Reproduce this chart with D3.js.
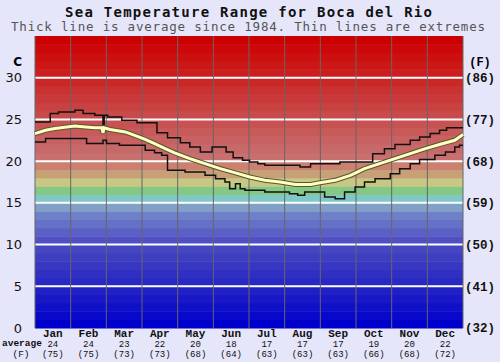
<!DOCTYPE html>
<html>
<head>
<meta charset="utf-8">
<script src="https://cdn.jsdelivr.net/npm/d3@7"></script>
<style>
  html, body { margin: 0; padding: 0; background: #e6e6fa; }
  svg { display: block; }
</style>
</head>
<body>
<svg id="chart" width="500" height="362"></svg>
<script>
// month labels and monthly averages
const months = ["Jan", "Feb", "Mar", "Apr", "May", "Jun", "Jul", "Aug", "Sep", "Oct", "Nov", "Dec"];
const monthAvgC = [24, 24, 23, 22, 20, 18, 17, 17, 17, 19, 20, 22];
const monthAvgF = [75, 75, 73, 73, 68, 64, 63, 63, 63, 66, 68, 72];
const ticksC = [0, 5, 10, 15, 20, 25, 30];
const ticksF = [32, 41, 50, 59, 68, 77, 86];

// average line (day of year, deg C)
const avgDays  = [0, 9, 17, 34, 43, 51, 57, 58, 59, 64, 77, 85, 94, 102, 111, 119, 132, 145, 158, 171, 183, 196, 209, 222, 235, 243, 256, 269, 281, 294, 307, 320, 333, 345, 358, 365];
const avgTemps = [23.3, 23.7, 23.9, 24.2, 24.1, 24.0, 24.0, 23.4, 24.0, 23.8, 23.5, 23.1, 22.6, 22.1, 21.5, 21.0, 20.3, 19.7, 19.1, 18.6, 18.1, 17.7, 17.5, 17.2, 17.2, 17.4, 17.7, 18.3, 19.1, 19.7, 20.3, 20.9, 21.5, 22.0, 22.5, 23.2];

// upper extreme (step changes)
const hiDays  = [0, 13, 20, 34, 41, 51, 58, 59, 62, 74, 87, 104, 113, 124, 132, 141, 151, 163, 169, 177, 183, 190, 196, 226, 235, 260, 288, 298, 307, 320, 328, 337, 345, 351, 365];
const hiTemps = [24.7, 25.7, 25.9, 26.1, 25.7, 25.5, 24.4, 25.5, 25.3, 24.9, 24.6, 23.4, 22.8, 22.2, 21.7, 21.1, 21.7, 21.1, 20.4, 20.1, 19.9, 19.7, 19.5, 19.3, 19.7, 19.9, 20.9, 21.5, 22.0, 22.5, 22.9, 23.3, 23.7, 24.0, 24.0];

// lower extreme (step changes)
const loDays  = [0, 9, 44, 58, 61, 72, 94, 102, 108, 113, 128, 145, 154, 162, 166, 171, 175, 179, 196, 217, 224, 230, 247, 256, 264, 273, 281, 290, 303, 311, 320, 328, 341, 350, 358, 362, 365];
const loTemps = [22.3, 22.7, 22.1, 22.5, 22.1, 21.9, 21.3, 21.0, 20.7, 18.9, 18.7, 18.3, 17.9, 17.5, 16.7, 17.3, 16.7, 16.5, 16.3, 16.1, 15.9, 16.3, 15.7, 15.5, 16.3, 16.9, 17.5, 17.9, 18.5, 19.1, 19.7, 20.2, 20.7, 21.1, 21.7, 21.9, 21.9];

const svg = d3.select("#chart");
const plot = { left: 35, right: 463, top: 36, bottom: 328 };

const x = d3.scaleLinear().domain([0, 365]).range([plot.left, plot.right]);
const y = d3.scaleLinear().domain([0, 35]).range([plot.bottom, plot.top]);

// colour of each 1 degree band
const bandColor = d3.scaleLinear()
    .domain([0, 4, 9, 10, 13, 14, 15, 16, 17, 18, 19, 20, 24, 25, 29, 30, 34])
    .range(["#0000cc", "#2020c4", "#4646c0", "#5050c4", "#7080c8", "#80a0c8", "#80c8c8", "#84c884",
            "#c8c884", "#c8a078", "#cc8070", "#c87070", "#c85252", "#c84a4a", "#ca2828", "#cc1e1e", "#cc0000"]);

svg.append("g").selectAll("rect")
    .data(d3.range(0, 35))
    .join("rect")
    .attr("x", plot.left)
    .attr("width", plot.right - plot.left)
    .attr("y", d => y(d + 1))
    .attr("height", d => y(d) - y(d + 1) + 0.5)
    .attr("fill", d => bandColor(d));

// white lines every 5 degrees
svg.append("g").selectAll("line")
    .data(ticksC.filter(d => d > 0))
    .join("line")
    .attr("x1", plot.left).attr("x2", plot.right)
    .attr("y1", d => y(d)).attr("y2", d => y(d))
    .attr("stroke", "#ffffff")
    .attr("stroke-width", 2);

// month boundaries
svg.append("g").selectAll("line")
    .data(d3.range(0, 13))
    .join("line")
    .attr("x1", d => x(d * 365 / 12)).attr("x2", d => x(d * 365 / 12))
    .attr("y1", plot.top).attr("y2", plot.bottom)
    .attr("stroke", "#666666")
    .attr("stroke-width", 1);

const stepLine = d3.line()
    .x(d => x(d[0]))
    .y(d => y(d[1]))
    .curve(d3.curveStepAfter);

svg.append("path")
    .attr("d", stepLine(d3.zip(hiDays, hiTemps)))
    .attr("fill", "none").attr("stroke", "#111").attr("stroke-width", 1.5);
svg.append("path")
    .attr("d", stepLine(d3.zip(loDays, loTemps)))
    .attr("fill", "none").attr("stroke", "#111").attr("stroke-width", 1.5);

const avgLine = d3.line()
    .x(d => x(d[0]))
    .y(d => y(d[1]));
const avgData = d3.zip(avgDays, avgTemps);
svg.append("path")
    .attr("d", avgLine(avgData))
    .attr("fill", "none").attr("stroke", "#555533").attr("stroke-width", 5);
svg.append("path")
    .attr("d", avgLine(avgData))
    .attr("fill", "none").attr("stroke", "#ffffc0").attr("stroke-width", 3);

// titles
svg.append("text")
    .attr("x", 65).attr("y", 17)
    .attr("textLength", 367)
    .attr("font-family", "'DejaVu Sans Mono', monospace")
    .attr("font-weight", "bold")
    .attr("font-size", 14)
    .attr("fill", "#111")
    .text("Sea Temperature Range for Boca del Rio");
svg.append("text")
    .attr("x", 11).attr("y", 31)
    .attr("textLength", 474)
    .attr("font-family", "'DejaVu Sans Mono', monospace")
    .attr("font-size", 12.5)
    .attr("fill", "#555")
    .text("Thick line is average since 1984. Thin lines are extremes");

// left axis (C)
svg.append("text")
    .attr("x", 22).attr("y", 62).attr("dy", "0.35em")
    .attr("text-anchor", "end")
    .attr("font-family", "'DejaVu Sans', sans-serif")
    .attr("font-weight", "bold").attr("font-size", 12)
    .text("C");
svg.append("g").selectAll("text")
    .data(ticksC)
    .join("text")
    .attr("x", 22).attr("y", d => y(d)).attr("dy", "0.35em")
    .attr("text-anchor", "end")
    .attr("font-family", "'DejaVu Sans', sans-serif")
    .attr("font-size", 13)
    .attr("fill", "#111")
    .text(d => d);

// right axis (F)
svg.append("text")
    .attr("x", 480).attr("y", 62).attr("dy", "0.35em")
    .attr("text-anchor", "middle")
    .attr("font-family", "'Liberation Mono', monospace")
    .attr("font-weight", "bold").attr("font-size", 12)
    .text("(F)");
svg.append("g").selectAll("text")
    .data(ticksF)
    .join("text")
    .attr("x", 480).attr("y", (d, i) => y(ticksC[i])).attr("dy", "0.35em")
    .attr("text-anchor", "middle")
    .attr("font-family", "'Liberation Mono', monospace")
    .attr("font-weight", "bold")
    .attr("font-size", 12.5)
    .attr("fill", "#111")
    .text(d => `(${d})`);

// month labels underneath
const colMid = i => x((i + 0.5) * 365 / 12);
const bottom = svg.append("g")
    .attr("font-family", "'Liberation Mono', monospace")
    .attr("font-weight", "bold")
    .attr("fill", "#111")
    .attr("text-anchor", "middle");
bottom.selectAll(".mon")
    .data(months)
    .join("text")
    .attr("class", "mon")
    .attr("x", (d, i) => colMid(i)).attr("y", 337)
    .attr("font-size", 11)
    .text(d => d);
bottom.selectAll(".avgc")
    .data(monthAvgC)
    .join("text")
    .attr("class", "avgc")
    .attr("x", (d, i) => colMid(i)).attr("y", 347)
    .attr("font-size", 9)
    .attr("font-weight", "normal")
    .text(d => d);
bottom.selectAll(".avgf")
    .data(monthAvgF)
    .join("text")
    .attr("class", "avgf")
    .attr("x", (d, i) => colMid(i)).attr("y", 357)
    .attr("font-size", 9)
    .attr("font-weight", "normal")
    .text(d => `(${d})`);
bottom.append("text")
    .attr("x", 2).attr("y", 346)
    .attr("text-anchor", "start")
    .attr("font-size", 9.5)
    .text("average");
bottom.append("text")
    .attr("x", 21).attr("y", 357)
    .attr("font-size", 9.5)
    .attr("font-weight", "normal")
    .text("(F)");
</script>
</body>
</html>
